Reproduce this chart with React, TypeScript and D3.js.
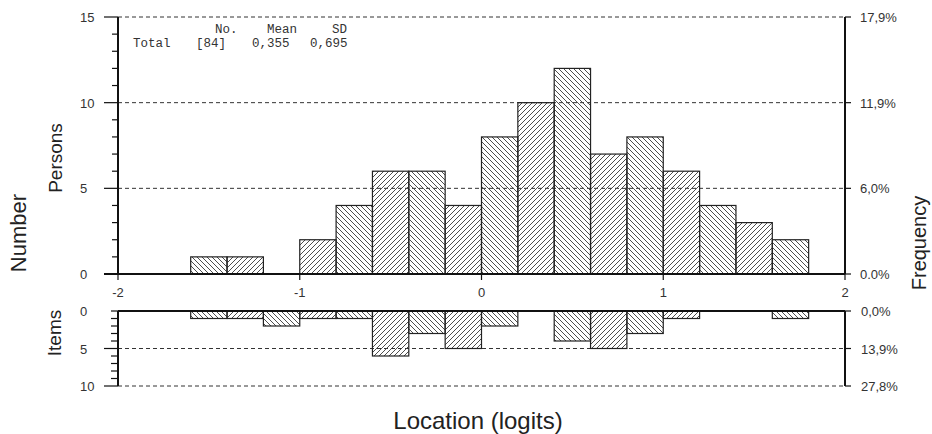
import React from "react";
import * as d3 from "d3";

// ---- data ----
const binStarts = [-1.6, -1.4, -1.2, -1.0, -0.8, -0.6, -0.4, -0.2, 0.0, 0.2, 0.4, 0.6, 0.8, 1.0, 1.2, 1.4, 1.6];
const binWidth = 0.2;
const persons = [1, 1, 0, 2, 4, 6, 6, 4, 8, 10, 12, 7, 8, 6, 4, 3, 2];
const items = [1, 1, 2, 1, 1, 6, 3, 5, 2, 0, 4, 5, 3, 1, 0, 0, 1];

const xTicks = [-2, -1, 0, 1, 2];
const topYTicks = [0, 5, 10, 15];
const topFreqLabels = ["0.0%", "6,0%", "11,9%", "17,9%"];
const botYTicks = [0, 5, 10];
const botFreqLabels = ["0,0%", "13,9%", "27,8%"];

const legendHeader = ["No.", "Mean", "SD"];
const legendRow = ["Total", "[84]", "0,355", "0,695"];

const W = 932;
const H = 434;

export default function App() {
  const x = d3.scaleLinear().domain([-2, 2]).range([118, 845]);
  const yTop = d3.scaleLinear().domain([0, 15]).range([274, 17]);
  const yBot = d3.scaleLinear().domain([0, 10]).range([311, 386]);

  const axisColor = "#111";
  const tickFont = "Arial, 'Liberation Sans', sans-serif";
  const tickColor = "#333";
  const x0 = x(-2);
  const x1 = x(2);

  const hatchId = (i: number) => (i % 2 === 0 ? "url(#hatchBack)" : "url(#hatchFwd)");

  const topMinor = d3.range(0, 16);
  const botMinor = d3.range(0, 11);

  const legendHeaderX = [215, 267, 332];
  const legendRowX = [133, 196, 252, 310];
  const monoFont = "'Liberation Mono', 'Courier New', monospace";

  return (
    <svg width={W} height={H} style={{ display: "block", position: "absolute", left: 0, top: 0 }}>
      <defs>
        <pattern id="hatchBack" patternUnits="userSpaceOnUse" width={5} height={5}>
          <path d="M-1,-1 L6,6 M-1,4 L1,6 M4,-1 L6,1" stroke="#3a3a3a" strokeWidth={0.9} />
        </pattern>
        <pattern id="hatchFwd" patternUnits="userSpaceOnUse" width={5} height={5}>
          <path d="M-1,6 L6,-1 M-1,1 L1,-1 M4,6 L6,4" stroke="#3a3a3a" strokeWidth={0.9} />
        </pattern>
      </defs>
      <rect width={W} height={H} fill="#fff" />

      {/* top grid lines */}
      {topYTicks.filter((t) => t > 0).map((t) => (
        <line key={"tg" + t} x1={x0} x2={x1} y1={yTop(t)} y2={yTop(t)} stroke="#333" strokeWidth={1} strokeDasharray="4,3" />
      ))}
      {/* bottom grid lines */}
      {botYTicks.filter((t) => t > 0).map((t) => (
        <line key={"bg" + t} x1={x0} x2={x1} y1={yBot(t)} y2={yBot(t)} stroke="#333" strokeWidth={1} strokeDasharray="4,3" />
      ))}

      {/* top bars */}
      {persons.map((v, i) =>
        v > 0 ? (
          <rect
            key={"p" + i}
            x={x(binStarts[i])}
            width={x(binStarts[i] + binWidth) - x(binStarts[i])}
            y={yTop(v)}
            height={yTop(0) - yTop(v)}
            fill={hatchId(i)}
            stroke="#222"
            strokeWidth={1.2}
          />
        ) : null
      )}
      {/* bottom bars */}
      {items.map((v, i) =>
        v > 0 ? (
          <rect
            key={"it" + i}
            x={x(binStarts[i])}
            width={x(binStarts[i] + binWidth) - x(binStarts[i])}
            y={yBot(0)}
            height={yBot(v) - yBot(0)}
            fill={hatchId(i)}
            stroke="#222"
            strokeWidth={1.2}
          />
        ) : null
      )}

      {/* top axes */}
      <line x1={x0} x2={x0} y1={yTop(15)} y2={yTop(0)} stroke={axisColor} strokeWidth={2} />
      <line x1={x1} x2={x1} y1={yTop(15)} y2={yTop(0)} stroke={axisColor} strokeWidth={2} />
      <line x1={104} x2={x1} y1={yTop(0)} y2={yTop(0)} stroke={axisColor} strokeWidth={2} />
      {topMinor.map((t) => (
        <line key={"tm" + t} x1={t % 5 === 0 ? 104 : 112} x2={x0} y1={yTop(t)} y2={yTop(t)} stroke={axisColor} strokeWidth={1.2} />
      ))}
      {topYTicks.map((t) => (
        <text key={"tl" + t} x={80} y={yTop(t) + 5} fontFamily={tickFont} fontSize={13} fill={tickColor}>
          {t}
        </text>
      ))}
      {topYTicks.map((t, i) => (
        <g key={"tr" + t}>
          <line x1={x1} x2={851} y1={yTop(t)} y2={yTop(t)} stroke={axisColor} strokeWidth={1.2} />
          <text x={860} y={yTop(t) + 5} fontFamily={tickFont} fontSize={13} fill={tickColor}>
            {topFreqLabels[i]}
          </text>
        </g>
      ))}
      {xTicks.map((t) => (
        <g key={"xt" + t}>
          <line x1={x(t)} x2={x(t)} y1={yTop(0)} y2={yTop(0) + 6} stroke={axisColor} strokeWidth={1.2} />
          <text x={x(t)} y={297} textAnchor="middle" fontFamily={tickFont} fontSize={13} fill={tickColor}>
            {t}
          </text>
        </g>
      ))}

      {/* bottom axes */}
      <line x1={x0} x2={x1} y1={yBot(0)} y2={yBot(0)} stroke={axisColor} strokeWidth={2} />
      <line x1={x0} x2={x0} y1={yBot(0)} y2={yBot(10)} stroke={axisColor} strokeWidth={2} />
      <line x1={x1} x2={x1} y1={yBot(0)} y2={yBot(10)} stroke={axisColor} strokeWidth={2} />
      {botMinor.map((t) => (
        <line key={"bm" + t} x1={t % 5 === 0 && t > 0 ? 104 : 111} x2={x0} y1={yBot(t)} y2={yBot(t)} stroke={axisColor} strokeWidth={1.2} />
      ))}
      {botYTicks.map((t) => (
        <text key={"bl" + t} x={80} y={yBot(t) + 5} fontFamily={tickFont} fontSize={13} fill={tickColor}>
          {t}
        </text>
      ))}
      {botYTicks.map((t, i) => (
        <g key={"br" + t}>
          <line x1={x1} x2={851} y1={yBot(t)} y2={yBot(t)} stroke={axisColor} strokeWidth={1.2} />
          <text x={861} y={yBot(t) + 5} fontFamily={tickFont} fontSize={13} fill={tickColor}>
            {botFreqLabels[i]}
          </text>
        </g>
      ))}

      {/* legend */}
      {legendHeader.map((s, i) => (
        <text key={"lh" + i} x={legendHeaderX[i]} y={33} fontFamily={monoFont} fontSize={12.5} fill="#333">
          {s}
        </text>
      ))}
      {legendRow.map((s, i) => (
        <text key={"lr" + i} x={legendRowX[i]} y={47} fontFamily={monoFont} fontSize={12.5} fill="#333">
          {s}
        </text>
      ))}

      {/* axis titles */}
      <text x={478} y={429} textAnchor="middle" fontFamily={tickFont} fontSize={24} fill="#222">
        Location (logits)
      </text>
      <text transform="translate(26,233) rotate(-90)" textAnchor="middle" fontFamily={tickFont} fontSize={22} fill="#222">
        Number
      </text>
      <text transform="translate(62,158) rotate(-90)" textAnchor="middle" fontFamily={tickFont} fontSize={19} fill="#222">
        Persons
      </text>
      <text transform="translate(61,333) rotate(-90)" textAnchor="middle" fontFamily={tickFont} fontSize={19} fill="#222">
        Items
      </text>
      <text transform="translate(926,243) rotate(-90)" textAnchor="middle" fontFamily={tickFont} fontSize={20} fill="#222">
        Frequency
      </text>
    </svg>
  );
}
